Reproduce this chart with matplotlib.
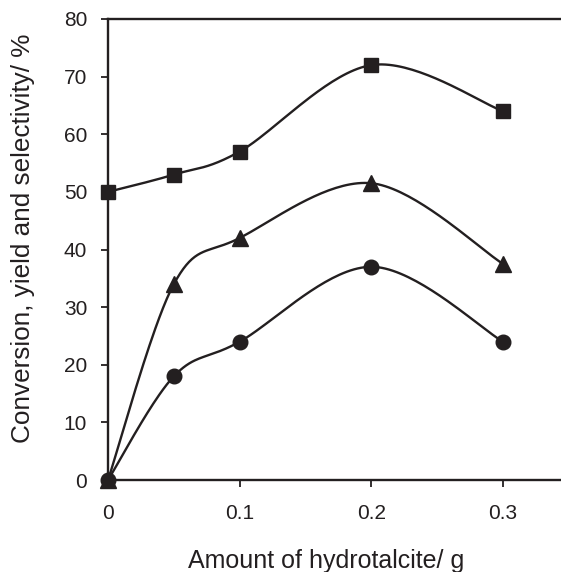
import numpy as np
import matplotlib.pyplot as plt

plt.rcParams['font.family'] = ['Liberation Sans', 'DejaVu Sans']

amount = [0, 0.05, 0.1, 0.2, 0.3]
squares = [50, 53, 57, 72, 64]
triangles = [0, 34, 42, 51.5, 37.5]
circles = [0, 18, 24, 37, 24]


def smooth(xs, ys, n=40):
    # Excel-style smoothed line: cubic Bezier segments with Catmull-Rom control points
    p = np.column_stack([xs, ys]).astype(float)
    pts = np.vstack([p[0], p, p[-1]])
    out = []
    t = np.linspace(0, 1, n)[:, None]
    for i in range(1, len(pts) - 2):
        p0, p1, p2, p3 = pts[i - 1], pts[i], pts[i + 1], pts[i + 2]
        c1 = p1 + (p2 - p0) / 6
        c2 = p2 - (p3 - p1) / 6
        seg = ((1 - t) ** 3) * p1 + 3 * ((1 - t) ** 2) * t * c1 \
            + 3 * (1 - t) * t ** 2 * c2 + t ** 3 * p2
        out.append(seg)
    out = np.vstack(out)
    return out[:, 0], out[:, 1]


ink = '#231f20'
fig = plt.figure(figsize=(5.61, 5.72), dpi=100)
ax = fig.add_axes([0.1925, 0.1608, 0.8075, 0.806])

for ys, mk, ms in [(squares, 's', 10.5), (triangles, '^', 11.5), (circles, 'o', 10.5)]:
    sx, sy = smooth(amount, ys)
    ax.plot(sx, sy, color=ink, lw=1.7, clip_on=False, zorder=2)
    ax.plot(amount, ys, ls='none', marker=mk, ms=ms, color=ink,
            clip_on=False, zorder=3)

ax.set_xlim(0, 0.344)
ax.set_ylim(0, 80)
ax.set_xticks([0, 0.1, 0.2, 0.3])
ax.set_xticklabels(['0', '0.1', '0.2', '0.3'])
ax.set_yticks(range(0, 81, 10))
ax.spines['right'].set_visible(False)
for s in ('left', 'top', 'bottom'):
    ax.spines[s].set_linewidth(1.7)
    ax.spines[s].set_color(ink)
ax.tick_params(direction='out', length=5, width=1.3, color=ink,
               labelsize=15, labelcolor=ink)
ax.tick_params(axis='x', pad=12)
ax.tick_params(axis='y', pad=10)
ax.set_xlabel('Amount of hydrotalcite/ g', fontsize=18, color=ink)
ax.set_ylabel('Conversion, yield and selectivity/ %', fontsize=18.8, color=ink)
ax.xaxis.set_label_coords(0.481, -0.149)
ax.yaxis.set_label_coords(-0.161, 0.525)

fig.savefig('out.png', dpi=100)
